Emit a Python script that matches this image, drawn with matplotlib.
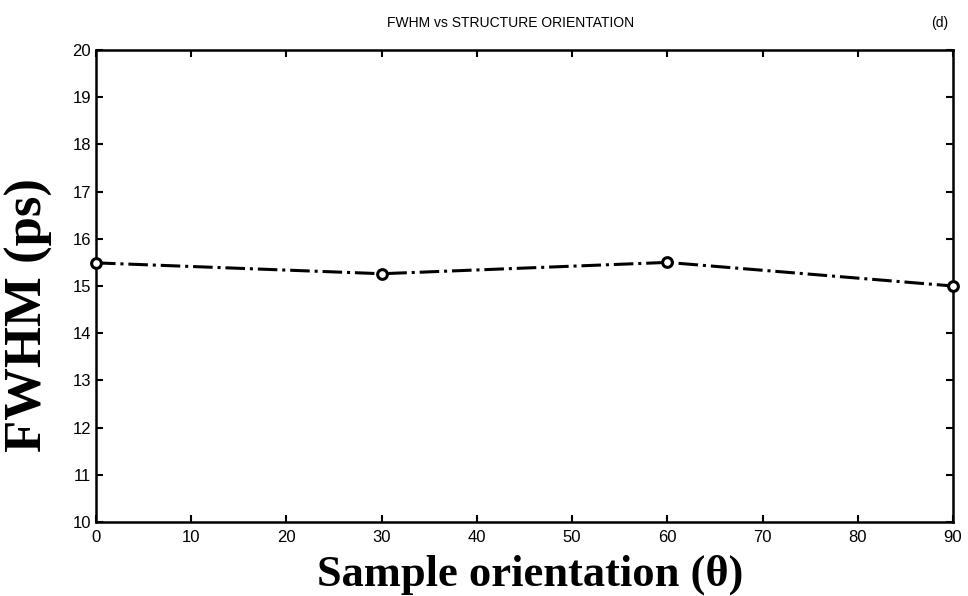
import matplotlib
matplotlib.use('Agg')
import matplotlib.pyplot as plt

# orientation de l'echantillon (degres) et FWHM mesuree (ps)
angles = [0, 30, 60, 90]
fwhm = [15.49, 15.26, 15.50, 15.0]

xticks = [0, 10, 20, 30, 40, 50, 60, 70, 80, 90]
yticks = [10, 11, 12, 13, 14, 15, 16, 17, 18, 19, 20]

W, H = 968, 596
fig = plt.figure(figsize=(W / 100, H / 100), dpi=100)
ax = fig.add_axes([96/W, 1 - 522/H, (953-96)/W, (522-50)/H])

ax.plot(angles, fwhm, color='black', linestyle='-.', linewidth=2.2,
        marker='o', markersize=7, markerfacecolor='white', markeredgewidth=2.2,
        clip_on=False, zorder=5)

ax.set_xlim(0, 90)
ax.set_ylim(10, 20)
ax.set_xticks(xticks)
ax.set_yticks(yticks)
ax.tick_params(direction='in', top=True, right=True, length=5, width=1.5,
               labelsize=12)
ax.tick_params(axis='x', pad=6)
for lab in ax.get_xticklabels() + ax.get_yticklabels():
    lab.set_family('Liberation Sans')
for sp in ax.spines.values():
    sp.set_linewidth(1.8)

# titres des axes places comme sur l'original
fig.text(530/W, 1 - 575/H, 'Sample orientation (\u03b8)', family='Liberation Serif',
         fontweight='bold', fontsize=32, ha='center', va='center')
fig.text(29/W, 1 - 315/H, 'FWHM (ps)', family='Liberation Serif', fontweight='bold',
         fontsize=38, ha='center', va='center', rotation=90)

fig.text(0.527, 0.962, 'FWHM vs STRUCTURE ORIENTATION', family='Liberation Sans',
         fontsize=10, ha='center', va='center')
fig.text(0.971, 0.962, '(d)', family='Liberation Sans', fontsize=10,
         ha='center', va='center')

fig.savefig('out.png', dpi=100)
